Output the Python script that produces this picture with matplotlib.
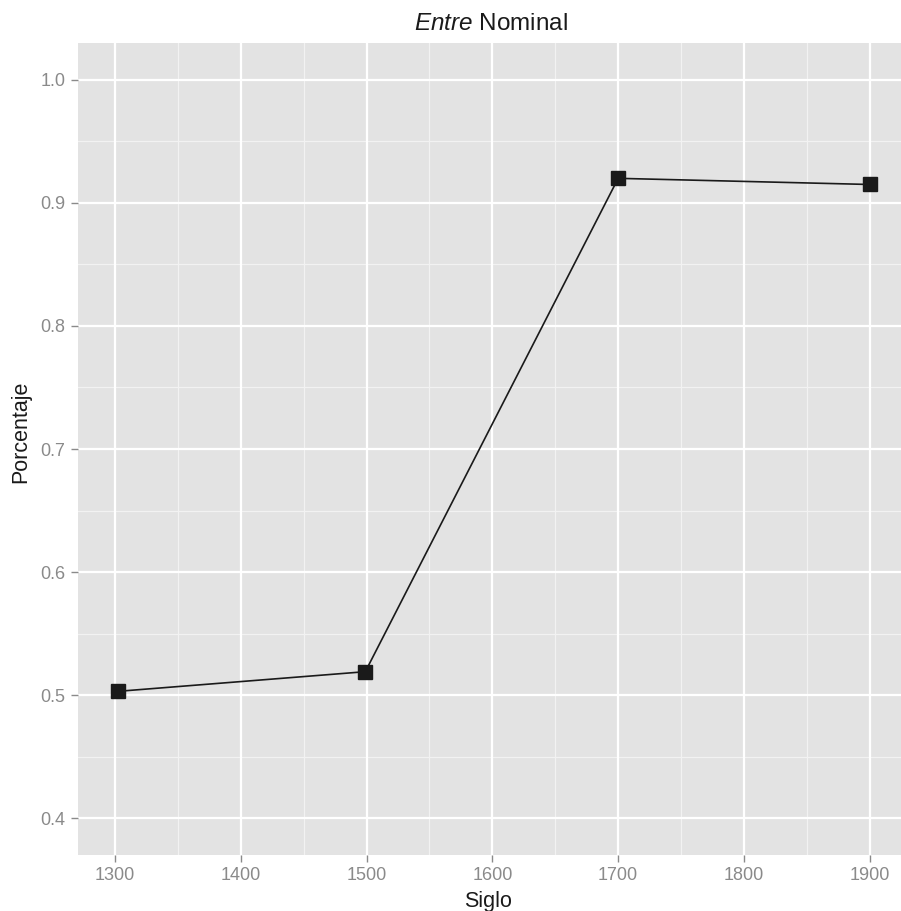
import matplotlib
matplotlib.use("Agg")
import matplotlib.pyplot as plt

# datos
siglo = [1302, 1499, 1700, 1900]
porcentaje = [0.503, 0.519, 0.920, 0.915]
xticks = [1300, 1400, 1500, 1600, 1700, 1800, 1900]
yticks = [0.4, 0.5, 0.6, 0.7, 0.8, 0.9, 1.0]

plt.rcParams['font.family'] = ['Liberation Sans', 'DejaVu Sans']
plt.rcParams['mathtext.fontset'] = 'custom'
plt.rcParams['mathtext.rm'] = 'Liberation Sans'
plt.rcParams['mathtext.it'] = 'Liberation Sans:italic'

W, H = 901, 911
fig = plt.figure(figsize=(W / 100, H / 100), dpi=100)
ax = fig.add_axes([78 / W, (H - 855) / H, (905.5 - 78) / W, (855 - 43) / H])
ax.set_facecolor('#e3e3e3')

# rejilla estilo ggplot
for x in range(1350, 1951, 100):
    ax.axvline(x, color='#f2f2f2', lw=0.9, zorder=0)
for y in [0.35, 0.45, 0.55, 0.65, 0.75, 0.85, 0.95]:
    ax.axhline(y, color='#f2f2f2', lw=0.9, zorder=0)
for x in xticks:
    ax.axvline(x, color='white', lw=1.6, zorder=0)
for y in yticks:
    ax.axhline(y, color='white', lw=1.6, zorder=0)

ax.plot(siglo, porcentaje, color='#1a1a1a', lw=1.2, marker='s', ms=10.5,
        zorder=3)

ax.set_xlim(1270.6, 1928.4)
ax.set_ylim(0.37, 1.03)
ax.set_xticks(xticks)
ax.set_yticks(yticks)
ax.set_yticklabels(['%.1f' % v for v in yticks])
for s in ax.spines.values():
    s.set_visible(False)
ax.tick_params(colors='#8a8a8a', labelcolor='#8a8a8a', labelsize=13,
               length=5, width=1, pad=4)

# textos
fig.text(491 / W, 1 - 29.5 / H, r'$\mathit{Entre}$ Nominal', fontsize=17.5,
         ha='center', va='baseline', color='#1a1a1a')
fig.text(488 / W, 1 - 907 / H, 'Siglo', fontsize=15.5, ha='center',
         va='baseline', color='#1a1a1a')
fig.text(21 / W, 1 - 432 / H, 'Porcentaje', fontsize=15.5, ha='center',
         va='center', rotation=90, color='#1a1a1a')

fig.savefig('out.png', dpi=100)
